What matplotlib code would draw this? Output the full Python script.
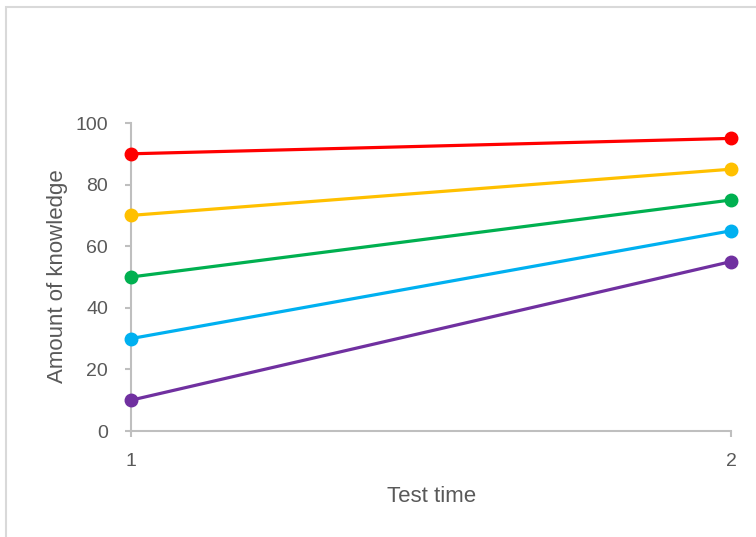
import matplotlib.pyplot as plt
from matplotlib.patches import Rectangle

# -------- Data --------
test_times = [1, 2]
series_red = [90, 95]
series_gold = [70, 85]
series_green = [50, 75]
series_blue = [30, 65]
series_purple = [10, 55]

series = [series_red, series_gold, series_green, series_blue, series_purple]
colors = ["#FF0000", "#FFC000", "#00B050", "#00B0F0", "#7030A0"]

y_ticks = [0, 20, 40, 60, 80, 100]
x_ticks = [1, 2]

plt.rcParams["font.family"] = ["Liberation Sans", "DejaVu Sans"]
text_color = "#595959"
axis_color = "#BFBFBF"

# -------- Figure --------
fig = plt.figure(figsize=(7.56, 5.37), dpi=100)
W, H = 756, 537

# chart frame (Excel style, cropped on right/bottom)
fig.patches.append(Rectangle((6 / W, -0.1), 1.2, 1 - 7 / H + 0.1,
                             transform=fig.transFigure, fill=False,
                             edgecolor="#D9D9D9", linewidth=1.5))

ax = fig.add_axes([131 / W, 1 - 431 / H, 600 / W, 308 / H])

for vals, c in zip(series, colors):
    ax.plot(test_times, vals, color=c, linewidth=2.3, marker="o",
            markersize=9, clip_on=False, zorder=3)

ax.set_xlim(1, 2)
ax.set_ylim(0, 100)
ax.set_xticks(x_ticks)
ax.set_yticks(y_ticks)

for s in ["top", "right"]:
    ax.spines[s].set_visible(False)
for s in ["left", "bottom"]:
    ax.spines[s].set_color(axis_color)
    ax.spines[s].set_linewidth(1.5)

ax.tick_params(axis="y", colors=axis_color, labelcolor=text_color,
               labelsize=14, length=4.5, width=1.5, pad=12)
ax.tick_params(axis="x", colors=axis_color, labelcolor=text_color,
               labelsize=14, length=4.5, width=1.5, pad=11)

fig.text(432 / W, 1 - 496 / H, "Test time", ha="center", va="center",
         fontsize=16, color=text_color)
fig.text(57 / W, 1 - 276 / H, "Amount of knowledge", ha="center",
         va="center", rotation=90, fontsize=16, color=text_color)

fig.savefig("out.png", dpi=100)
